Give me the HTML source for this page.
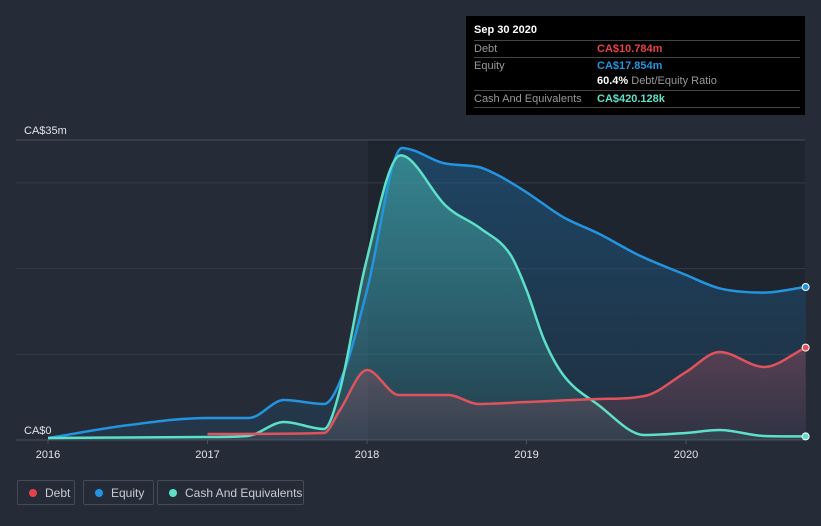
<!DOCTYPE html>
<html><head><meta charset="utf-8">
<style>
body{margin:0;width:821px;height:526px;background:#262c37;font-family:"Liberation Sans",sans-serif;overflow:hidden;position:relative}
.tip{position:absolute;left:466px;top:16px;width:339px;height:99px;background:#000;color:#fff;font-size:11px}
.tip .t{position:absolute;left:8px;top:8px;font-weight:bold;font-size:11px}
.row{position:absolute;left:8px;width:326px;border-top:1px solid #444;height:16px;line-height:16px}
.row .l{color:#999;position:absolute;left:0}
.row .v{position:absolute;left:123px;font-weight:bold}
.leg{position:absolute;top:480px;height:25px;border:1px solid #444b57;border-radius:2px;color:#c8ccd2;font-size:12px;line-height:25px;box-sizing:border-box}
.leg i{position:absolute;left:11px;top:8px;width:8px;height:8px;border-radius:50%}
.leg span{position:absolute;left:27px}
</style></head><body>
<svg id="chart" width="821" height="526" style="position:absolute;left:0;top:0">
<defs>
<linearGradient id="ge" x1="0" y1="0" x2="0" y2="1"><stop offset="0" stop-color="#1e5a88" stop-opacity="0.6"/><stop offset="1" stop-color="#1e5a88" stop-opacity="0.2"/></linearGradient>
<linearGradient id="gc" x1="0" y1="0" x2="0" y2="1"><stop offset="0" stop-color="#48b8b0" stop-opacity="0.55"/><stop offset="1" stop-color="#48b8b0" stop-opacity="0.1"/></linearGradient>
<linearGradient id="gd" x1="0" y1="0" x2="0" y2="1"><stop offset="0" stop-color="#c05060" stop-opacity="0.35"/><stop offset="1" stop-color="#c05060" stop-opacity="0.1"/></linearGradient>
</defs>
<rect x="368" y="140" width="437" height="300" fill="#1d222b" opacity="0.7"/>
<g id="grid"></g><g id="areas"></g><g id="lines"></g><g id="axes"></g>
</svg>
<div class="tip">
<div class="t">Sep 30 2020</div>
<div class="row" style="top:24px"><span class="l">Debt</span><span class="v" style="color:#e8414a">CA$10.784m</span></div>
<div class="row" style="top:41px"><span class="l">Equity</span><span class="v" style="color:#2394e0">CA$17.854m</span></div>
<div class="row" style="top:57px;border-top:none"><span class="v" style="color:#fff">60.4% <span style="color:#999;font-weight:normal">Debt/Equity Ratio</span></span></div>
<div class="row" style="top:74px;border-bottom:1px solid #444"><span class="l">Cash And Equivalents</span><span class="v" style="color:#5ee0c8">CA$420.128k</span></div>
</div>
<div class="leg" style="left:17px;width:58px"><i style="background:#e8414a"></i><span>Debt</span></div>
<div class="leg" style="left:83px;width:71px"><i style="background:#2394e0"></i><span>Equity</span></div>
<div class="leg" style="left:157px;width:147px"><i style="background:#5ee0c8"></i><span>Cash And Equivalents</span></div>
<script>
const equityDates=[2016,2016.51,2017,2017.26,2017.48,2017.73,2017.86,2018,2018.22,2018.29,2018.48,2018.7,2018.82,2019,2019.23,2019.45,2019.7,2020,2020.21,2020.49,2020.75];
const equityVals=[0.23,1.75,2.57,2.57,4.67,4.2,8.17,17.5,34.07,33.8,32.3,31.85,30.9,28.9,26.0,24.1,21.6,19.25,17.7,17.2,17.85];
const cashDates=[2016,2017,2017.25,2017.48,2017.73,2017.83,2017.99,2018.21,2018.27,2018.49,2018.71,2018.9,2019,2019.11,2019.23,2019.45,2019.74,2020,2020.21,2020.49,2020.75];
const cashVals=[0.23,0.35,0.47,2.1,1.28,5.83,20.4,33.2,32.7,27.4,24.7,21.6,17.5,11.7,7.6,4.1,0.58,0.82,1.17,0.47,0.42];
const debtDates=[2017,2017.73,2017.83,2018,2018.2,2018.51,2018.7,2019,2019.45,2019.74,2020,2020.21,2020.49,2020.75];
const debtVals=[0.7,0.82,3.5,8.17,5.25,5.25,4.2,4.43,4.78,5.13,7.93,10.27,8.52,10.78];
const yTicks=[0,10,20,30,35];
const xTicks=[2016,2017,2018,2019,2020];
const X=t=>48+(t-2016)*159.5, Y=v=>440-v*300/35;
const NS='http://www.w3.org/2000/svg';
function mk(tag,attrs,parent){const e=document.createElementNS(NS,tag);for(const k in attrs)e.setAttribute(k,attrs[k]);document.getElementById(parent).appendChild(e);return e;}
function monotone(pts){const n=pts.length;if(n<2)return '';const d=[],m=[];for(let i=0;i<n-1;i++)d.push((pts[i+1][1]-pts[i][1])/(pts[i+1][0]-pts[i][0]));m[0]=d[0];m[n-1]=d[n-2];for(let i=1;i<n-1;i++){m[i]=d[i-1]*d[i]<=0?0:(d[i-1]+d[i])/2;}
for(let i=0;i<n-1;i++){if(d[i]===0){m[i]=0;m[i+1]=0;continue;}const a=m[i]/d[i],b=m[i+1]/d[i],s=a*a+b*b;if(s>9){const t=3/Math.sqrt(s);m[i]=t*a*d[i];m[i+1]=t*b*d[i];}}
let p='M'+pts[0][0]+','+pts[0][1];for(let i=0;i<n-1;i++){const h=(pts[i+1][0]-pts[i][0])/3;p+='C'+(pts[i][0]+h)+','+(pts[i][1]+m[i]*h)+','+(pts[i+1][0]-h)+','+(pts[i+1][1]-m[i+1]*h)+','+pts[i+1][0]+','+pts[i+1][1];}return p;}
yTicks.forEach(v=>{const g=mk('line',{x1:16,x2:805,y1:Y(v),y2:Y(v),stroke:v===0||v===35?'#4a505b':'#363c47','stroke-width':1},'grid');

});
[[0,'CA$0'],[35,'CA$35m']].forEach(([v,s])=>{const t=mk('text',{x:24,y:Y(v)-6,fill:'#e0e3e8','font-size':11},'axes');t.textContent=s;

});
xTicks.forEach(y=>{const t=mk('text',{x:X(y),y:458,fill:'#e0e3e8','font-size':11,'text-anchor':'middle'},'axes');t.textContent=y;


const l=mk('line',{x1:X(y),x2:X(y),y1:440,y2:444,stroke:'#4a505b'},'axes');

});
function series(dates,vals,color,fill,name){const pts=dates.map((d,i)=>[X(d),Y(vals[i])]);const p=monotone(pts);
const a=mk('path',{d:p+'L'+pts[pts.length-1][0]+',440L'+pts[0][0]+',440Z',fill:fill},'areas');


const l=mk('path',{d:p,fill:'none',stroke:color,'stroke-width':2.5},'lines');


const last=pts[pts.length-1];const c=mk('circle',{cx:last[0],cy:last[1],r:3.5,fill:color,stroke:'#fff','stroke-width':1},'lines');

}
series(equityDates,equityVals,'#2394e0','url(#ge)','equity');
series(cashDates,cashVals,'#5ee0c8','url(#gc)','cash');
series(debtDates,debtVals,'#e0525c','url(#gd)','debt');
</script>
</body></html>
